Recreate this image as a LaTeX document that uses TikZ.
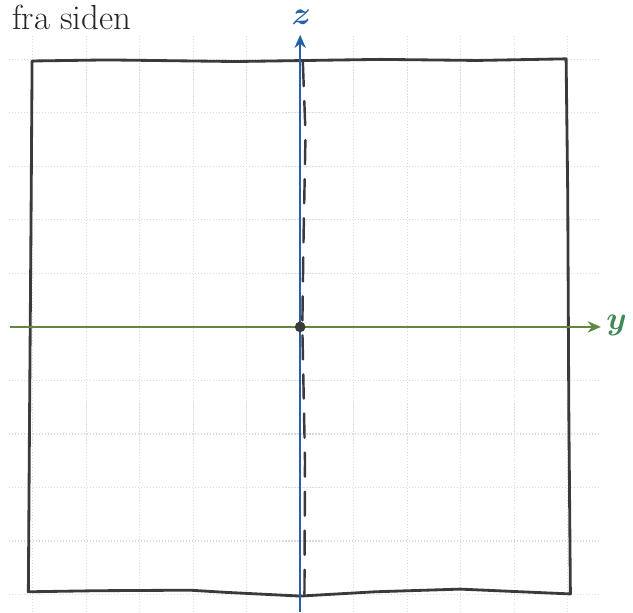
\documentclass[tikz,border=0pt]{standalone}
\usepackage{xcolor}
\usepackage{bm}
\usepackage{tikz}
\usetikzlibrary{calc,arrows.meta,positioning}

\definecolor{zblaa}{HTML}{2462A6}
\definecolor{ygronn}{HTML}{5F8A3C}
\definecolor{ytekst}{HTML}{3D8A57}
\definecolor{blyant}{HTML}{3A3A3A}

\begin{document}
\begin{tikzpicture}[
        rutenett/.style={draw=gray!28, densely dotted, line width=0.6pt},
        kant/.style={draw=blyant, line width=1.5pt, line join=round, line cap=round},
        strek/.style={draw=blyant, line width=1.3pt, dash pattern=on 0.45cm off 0.28cm, line cap=round},
        akse/.style={line width=1.4pt, -{Stealth[length=7pt,width=6pt]}},
        etikett/.style={font=\fontsize{16}{18}\selectfont, inner sep=1pt},
        >=Stealth
    ]
        \useasboundingbox (-5.61,-5.33) rectangle (6.22,6.11);

        % rutenett
        \draw[rutenett] (-5.45,-5.33) grid (5.6,5.45);

        % punkter
        \coordinate (origo) at (0,0);
        \coordinate (zbunn) at (0,-5.33);
        \coordinate (ztopp) at (0,5.46);
        \coordinate (yvenstre) at (-5.42,0);
        \coordinate (yhoyre) at (5.62,0);

        \node[anchor=base west, font=\fontsize{18.5}{20}\selectfont, text=black!85, inner sep=0pt] (tittel) at (-5.39,5.56) {fra siden};
        \node[etikett, text=zblaa] (zlabel) at (0.02,5.78) {$\bm{z}$};
        \node[etikett, text=ytekst, anchor=west] (ylabel) at (5.68,0.02) {$\bm{y}$};

        % kvadratet
        \draw[kant] (-5.01,4.97) -- (-3.6,4.99) -- (-1.2,4.96) -- (1.5,5.0) -- (3.3,4.98) -- (4.97,5.01)
            -- (5.0,2.5) -- (5.02,-1.5) -- (5.05,-4.99)
            -- (3.9,-4.94) -- (2.99,-4.90) -- (1.4,-4.95) -- (0,-5.03)
            -- (-1.4,-4.96) -- (-2.06,-4.92) -- (-3.8,-4.93) -- (-5.08,-4.95)
            -- (-5.06,-2) -- (-5.03,2) -- cycle;

        % stiplet linje
        \draw[strek] (0.05,4.95) -- (0.1,3.6) -- (0.06,1.5) -- (0.04,0) -- (0.09,-2.5) -- (0.08,-5.0);

        % akser
        \draw[akse, ygronn] (yvenstre) -- (yhoyre);
        \draw[akse, zblaa] (zbunn) -- (ztopp);

        \fill[blyant] (origo) circle (0.1);
    \end{tikzpicture}
\end{document}
